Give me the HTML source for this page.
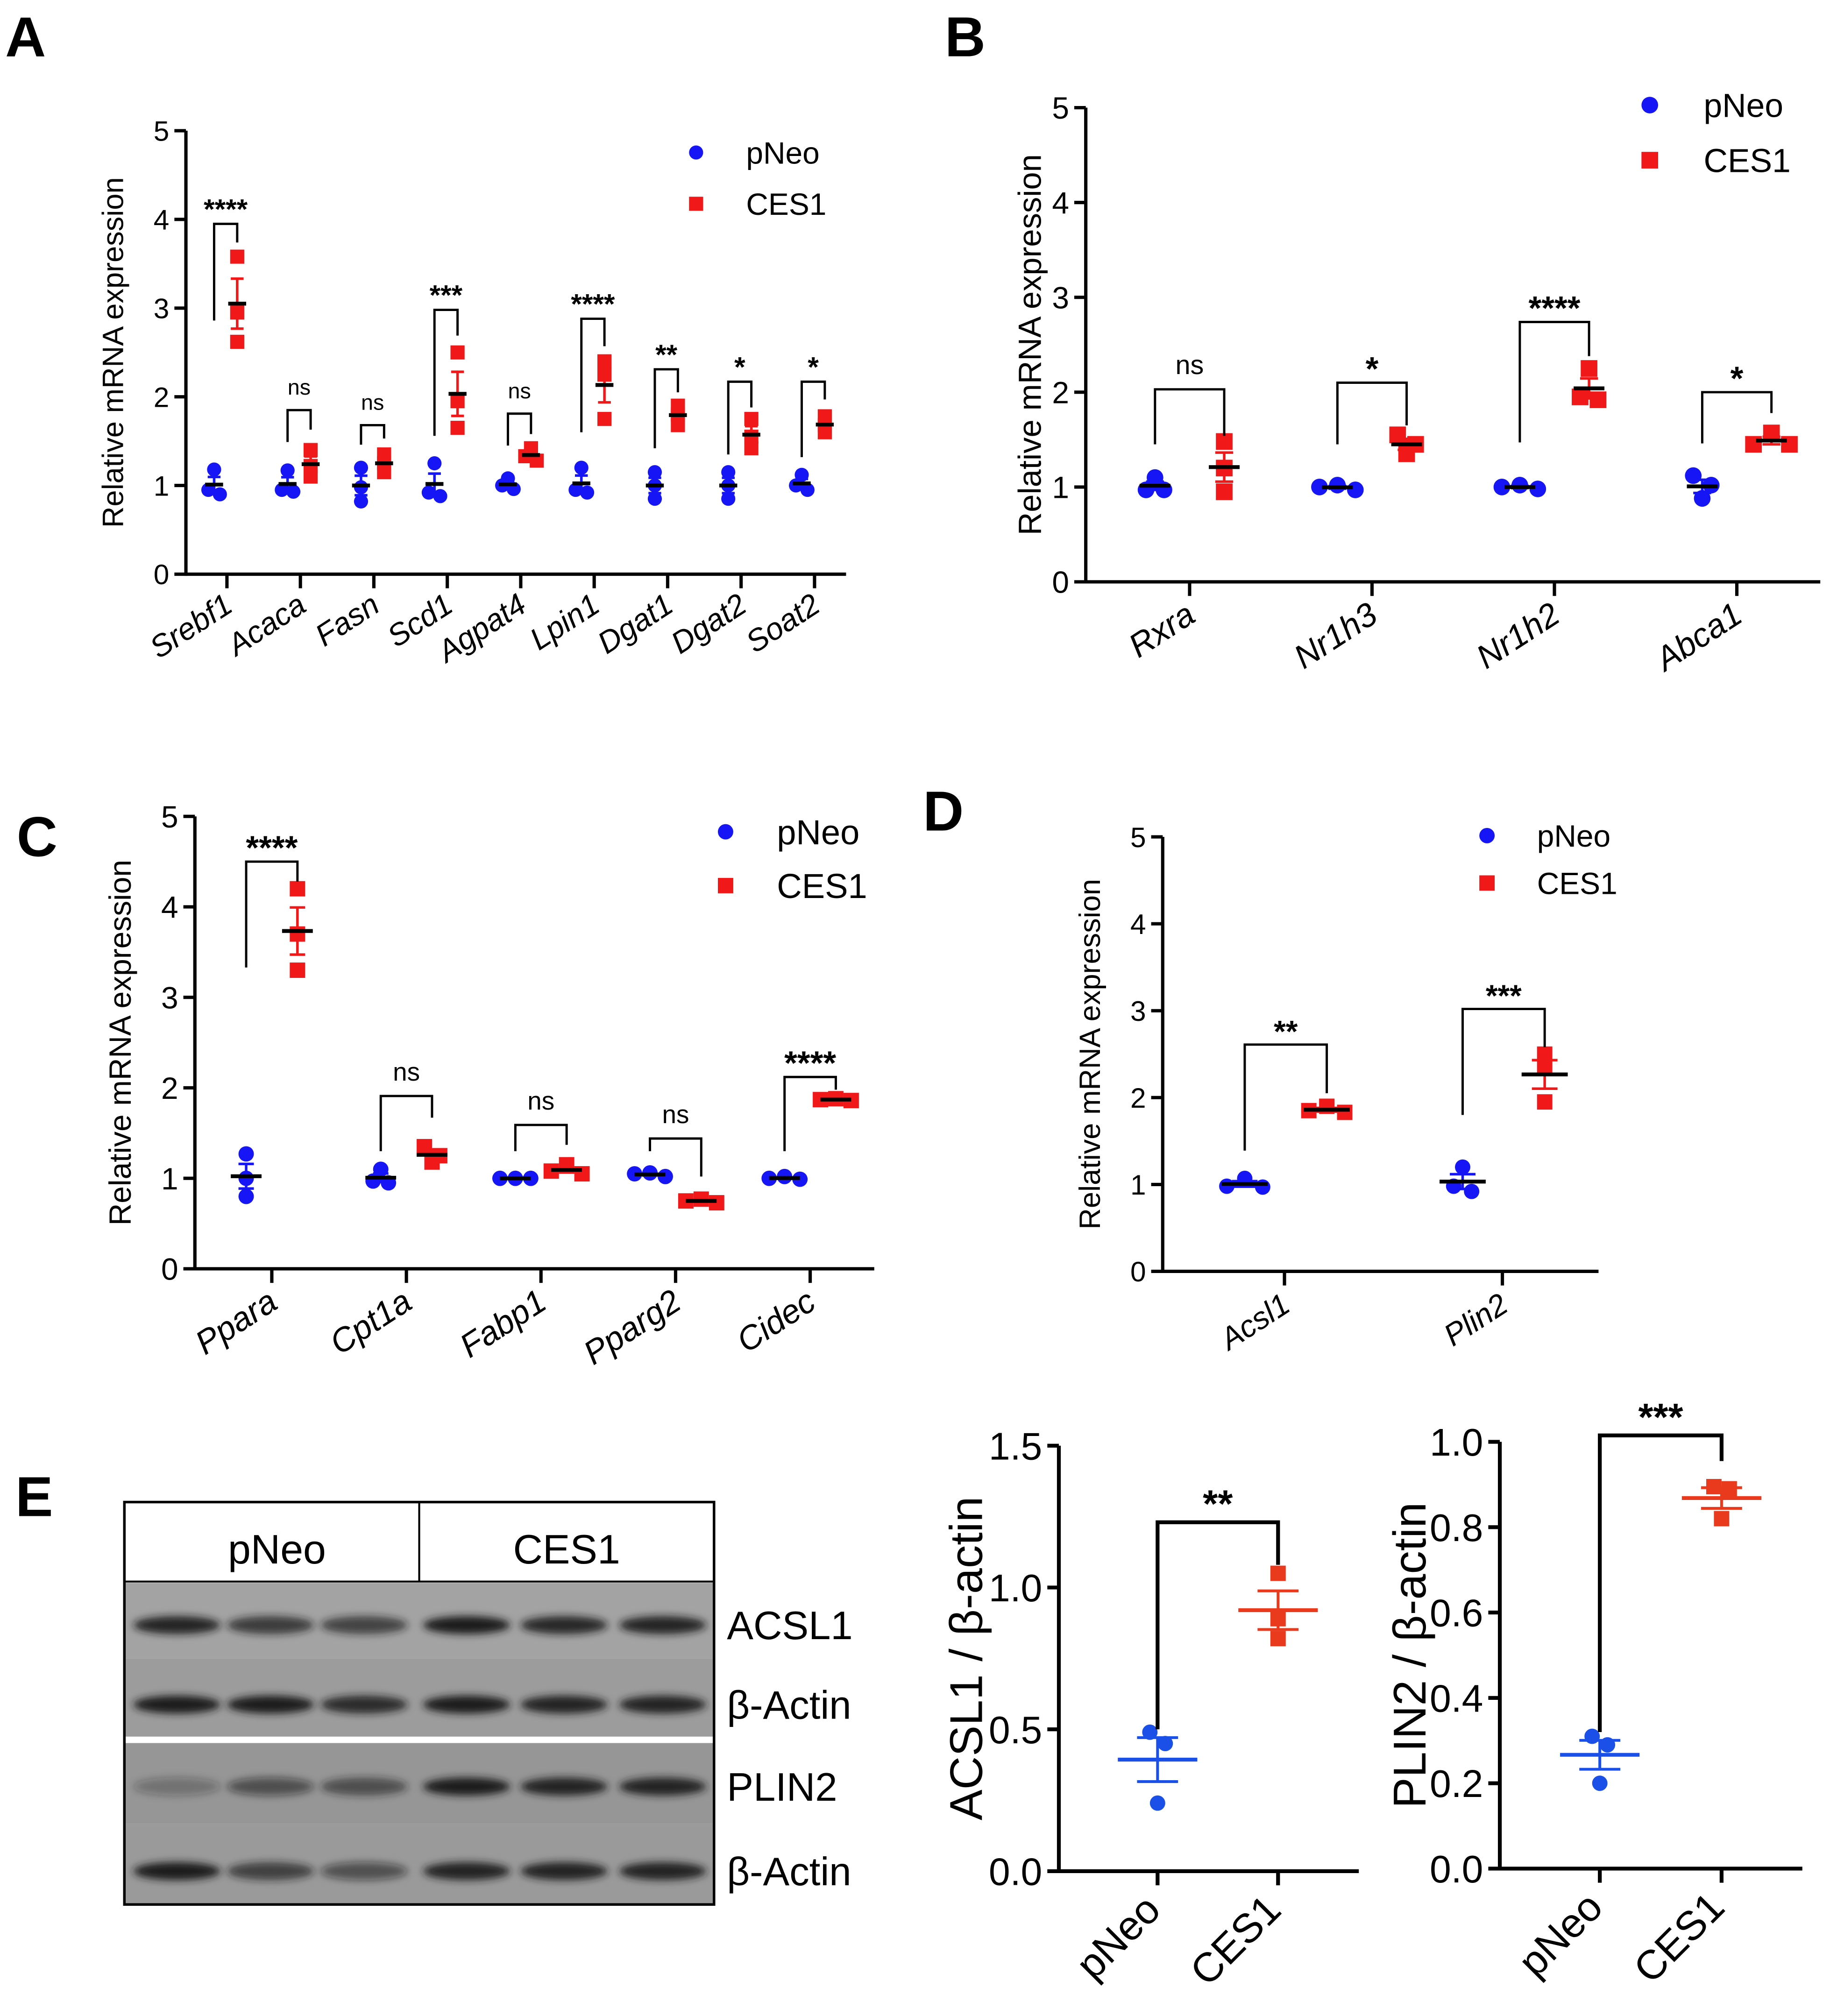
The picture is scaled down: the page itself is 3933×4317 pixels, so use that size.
<!DOCTYPE html>
<html><head><meta charset="utf-8">
<style>
html,body{margin:0;padding:0;background:#fff;}
svg{display:block;font-family:"Liberation Sans",Arial,sans-serif;}
</style></head>
<body>
<svg id="fig" xmlns="http://www.w3.org/2000/svg" width="3933" height="4317" viewBox="0 0 1433 1573">
<defs><filter id="blur" x="-50%" y="-100%" width="200%" height="300%"><feGaussianBlur stdDeviation="3"/></filter></defs>
</svg>
<script>
// ---------- DATA ----------
const catsA = ['Srebf1','Acaca','Fasn','Scd1','Agpat4','Lpin1','Dgat1','Dgat2','Soat2'];
const pNeoA = [[1.18,0.9,0.95],[1.17,0.93,0.95],[1.2,0.98,0.82],[1.25,0.92,0.88],[1.08,1.0,0.96],[1.2,0.95,0.92],[1.15,1.0,0.85],[1.15,1.0,0.85],[1.12,1.0,0.95]];
const ces1A = [[3.58,2.95,2.62],[1.4,1.22,1.1],[1.35,1.25,1.15],[2.5,1.95,1.65],[1.42,1.33,1.28],[2.4,2.25,1.75],[1.9,1.8,1.68],[1.75,1.55,1.42],[1.78,1.68,1.6]];
const sigA = ['****','ns','ns','***','ns','****','**','*','*'];
const brTopA = [3.95,1.85,1.68,2.98,1.81,2.88,2.31,2.17,2.17];
const brLeftA = [2.86,1.49,1.46,1.56,1.45,1.6,1.42,1.35,1.32];
const brRightA = [3.74,1.63,1.53,2.69,1.58,2.57,2.05,1.88,1.97];
const ticksA = [0,1,2,3,4,5];

const catsB = ['Rxra','Nr1h3','Nr1h2','Abca1'];
const pNeoB = [[1.1,0.97,0.97],[0.97,1.0,1.02],[0.98,1.0,1.02],[1.12,1.02,0.88]];
const ces1B = [[1.48,1.2,0.95],[1.55,1.45,1.35],[2.25,1.95,1.92],[1.57,1.45,1.45]];
const sigB = ['ns','*','****','*'];
const brTopB = [2.03,2.1,2.74,2.0];
const brLeftB = [1.45,1.45,1.47,1.46];
const brRightB = [1.54,1.65,2.38,1.78];
const ticksB = [0,1,2,3,4,5];

const catsC = ['Ppara','Cpt1a','Fabp1','Pparg2','Cidec'];
const pNeoC = [[1.27,1.0,0.8],[1.1,0.97,0.95],[1.0,1.0,1.0],[1.06,1.05,1.02],[0.99,1.02,1.0]];
const ces1C = [[4.2,3.7,3.3],[1.35,1.25,1.18],[1.15,1.08,1.05],[0.77,0.75,0.73],[1.88,1.87,1.86]];
const sigC = ['****','ns','ns','ns','****'];
const brTopC = [4.5,1.91,1.59,1.44,2.12];
const brLeftC = [3.33,1.3,1.3,1.3,1.3];
const brRightC = [4.28,1.67,1.37,1.02,1.98];
const ticksC = [0,1,2,3,4,5];

const catsD = ['Acsl1','Plin2'];
const pNeoD = [[1.07,0.98,0.97],[1.2,0.98,0.92]];
const ces1D = [[1.9,1.85,1.83],[2.5,2.35,1.95]];
const sigD = ['**','***'];
const brTopD = [2.61,3.02];
const brLeftD = [1.39,1.8];
const brRightD = [2.05,2.58];
const ticksD = [0,1,2,3,4,5];

const catsE = ['pNeo','CES1'];
const acslVals = [[0.49,0.45,0.24],[1.05,0.89,0.82]];
const acslSig = ['**'];
const acslBr = [1.23,0.5,1.08];
const acslTicks = [0,0.5,1.0,1.5];
const plinVals = [[0.31,0.29,0.2],[0.895,0.89,0.82]];
const plinSig = ['***'];
const plinBr = [1.015,0.32,0.955];
const plinTicks = [0,0.2,0.4,0.6,0.8,1.0];

const blotLanes = ['pNeo-1','pNeo-2','pNeo-3','CES1-1','CES1-2','CES1-3'];
const blotACSL1 = [0.9,0.75,0.7,1,0.88,0.9];
const blotActin1 = [1,1,0.85,1,0.95,0.95];
const blotPLIN2 = [0.3,0.55,0.6,1,0.95,0.95];
const blotActin2 = [1,0.7,0.55,0.95,0.95,0.95];

// ---------- HELPERS ----------
const NS='http://www.w3.org/2000/svg';
const svg=document.getElementById('fig');
function mk(tag,attrs,parent){const e=document.createElementNS(NS,tag);for(const k in attrs)e.setAttribute(k,attrs[k]);(parent||svg).appendChild(e);return e;}
function txt(s,attrs,parent){const e=mk('text',attrs,parent);e.textContent=s;return e;}
function mean(a){return a.reduce((s,v)=>s+v,0)/a.length;}
function sem(a){const m=mean(a);const sd=Math.sqrt(a.reduce((s,v)=>s+(v-m)*(v-m),0)/(a.length-1));return sd/Math.sqrt(a.length);}
function jitter(ys,dx,thr){
  const idx=[0,1,2].sort((i,j)=>ys[i]-ys[j]);const off=[0,0,0];
  const r=ys[idx[2]]-ys[idx[0]];
  if(r<thr){off[idx[0]]=0;off[idx[1]]=-dx;off[idx[2]]=dx;return off;}
  if(ys[idx[1]]-ys[idx[0]]<thr){off[idx[0]]=-dx/2;off[idx[1]]=dx/2;}
  else if(ys[idx[2]]-ys[idx[1]]<thr){off[idx[1]]=-dx/2;off[idx[2]]=dx/2;}
  return off;
}
function panelLabel(s,x,y){const t=txt(s,{x:x,y:y,'font-size':44,'font-weight':'bold',fill:'#000'});
  
  }

function dotPanel(p){
  const g=mk('g',{});
  
  
  const Y=v=>p.y0-v*(p.y0-p.y1)/p.ymax;
  const sw=p.sw||2.6;
  const ya=mk('line',{x1:p.x0,y1:p.y1,x2:p.x0,y2:p.y0+sw/2,stroke:'#000','stroke-width':sw},g);
  
  
  const xa=mk('line',{x1:p.x0,y1:p.y0,x2:p.x2,y2:p.y0,stroke:'#000','stroke-width':sw},g);
  
  
  p.ticks.forEach(t=>{
    const l=mk('line',{x1:p.x0-9,y1:Y(t),x2:p.x0,y2:Y(t),stroke:'#000','stroke-width':sw},g);
    
    
    const tl=txt(p.fmt?p.fmt(t):String(t),{x:p.x0-13,y:Y(t)+p.tfs*0.36,'font-size':p.tfs,'text-anchor':'end',fill:'#000'},g);
    
    
  });
  const yt=txt(p.ytitle,{x:0,y:0,'font-size':p.yfs,'text-anchor':'middle',fill:'#000',transform:`translate(${p.ytx},${(p.y0+p.y1)/2}) rotate(-90)`},g);
  
  
  p.cats.forEach((c,i)=>{
    const cx=p.cx0+i*p.dcx;
    const tk=mk('line',{x1:cx,y1:p.y0,x2:cx,y2:p.y0+11,stroke:'#000','stroke-width':sw},g);
    
    
    const lb=txt(c,{x:0,y:0,'font-size':p.cfs,'font-style':p.italic===false?'normal':'italic','text-anchor':'end',fill:'#000',transform:`translate(${cx+p.lox},${p.y0+p.loy}) rotate(${p.rot})`},g);
    
    
    const groups=p.single?[[p.vals[i],cx,p.colors[i],p.shapes[i]]]:[[p.a[i],cx-p.ofsA,p.colors[0],'circle'],[p.b[i],cx+p.ofsB,p.colors[1],'square']];
    groups.forEach(([vals,gx,col,shape],gi)=>{
      const ys=vals.map(Y);
      const off=jitter(ys,p.jdx,p.jthr);
      vals.forEach((v,k)=>{
        let m;
        if(shape==='circle'){m=mk('circle',{cx:gx+off[k],cy:ys[k],r:p.ms/2,fill:col},g);}
        else{m=mk('rect',{x:gx+off[k]-p.ms/2,y:ys[k]-p.ms/2,width:p.ms,height:p.ms,fill:col},g);}
        
        
      });
      const mu=mean(vals),se=sem(vals);
      const eb=mk('path',{d:`M${gx},${Y(mu+se)}V${Y(mu-se)}M${gx-p.capw},${Y(mu+se)}H${gx+p.capw}M${gx-p.capw},${Y(mu-se)}H${gx+p.capw}`,stroke:col,'stroke-width':p.ebw||2,fill:'none'},g);
      
      
      const ml=mk('line',{x1:gx-p.meanw,y1:Y(mu),x2:gx+p.meanw,y2:Y(mu),stroke:p.meanColor||col,'stroke-width':p.mlw||3},g);
      
      
    });
  });
  p.sig.forEach((s,i)=>{
    let lx,rx;
    if(p.single){lx=p.cx0;rx=p.cx0+p.dcx;}
    else{const cx=p.cx0+i*p.dcx;lx=cx-p.ofsA;rx=cx+p.ofsB;}
    const br=mk('path',{d:`M${lx},${Y(p.brL[i])}V${Y(p.brT[i])}H${rx}V${Y(p.brR[i])}`,stroke:'#000','stroke-width':p.bsw||1.8,fill:'none'},g);
    
    
    const isNs=s==='ns';
    const st=txt(s,{x:(lx+rx)/2,y:Y(p.brT[i])-(isNs?p.nsGap:p.starGap),'font-size':isNs?p.nsfs:p.sfs,'font-weight':isNs?'normal':'bold','text-anchor':'middle',fill:'#000'},g);
    
    
  });
  if(p.leg){
    const L=p.leg;
    const c1=mk('circle',{cx:L.x,cy:L.y1,r:p.ms/2,fill:p.colors[0]},g);
    
    
    const t1=txt('pNeo',{x:L.tx,y:L.y1+L.fs*0.36,'font-size':L.fs,fill:'#000'},g);
    
    
    const r2=mk('rect',{x:L.x-p.ms/2,y:L.y2-p.ms/2,width:p.ms,height:p.ms,fill:p.colors[1]},g);
    
    
    const t2=txt('CES1',{x:L.tx,y:L.y2+L.fs*0.36,'font-size':L.fs,fill:'#000'},g);
    
    
  }
}
const BLUE='#1515f5', RED='#f01818';
const TITLE='Relative mRNA expression';

panelLabel('A',4,44);
dotPanel({name:'panel-a',x0:145,y0:448,y1:102,x2:660,ymax:5,ticks:ticksA,tfs:22,ytitle:TITLE,yfs:23,ytx:96,
  cats:catsA,cx0:177,dcx:57.3,a:pNeoA,b:ces1A,ofsA:10,ofsB:8,colors:[BLUE,RED],ms:11,jdx:9,jthr:5,capw:5,meanw:7,meanColor:'#000',
  cfs:24,lox:6,loy:28,rot:-33,sig:sigA,brT:brTopA,brL:brLeftA,brR:brRightA,nsfs:17,sfs:22,nsGap:12,starGap:4,
  leg:{x:543,y1:119,y2:159,tx:582,fs:24}});

panelLabel('B',737,44);
dotPanel({name:'panel-b',x0:847,y0:454,y1:84,x2:1420,ymax:5,ticks:ticksB,tfs:24,ytitle:TITLE,yfs:25,ytx:812,
  cats:catsB,cx0:928,dcx:142.3,a:pNeoB,b:ces1B,ofsA:27,ofsB:27,colors:[BLUE,RED],ms:13,jdx:14,jthr:9,capw:7,meanw:12,meanColor:'#000',
  cfs:26,lox:6,loy:30,rot:-33,sig:sigB,brT:brTopB,brL:brLeftB,brR:brRightB,nsfs:21,sfs:26,nsGap:12,starGap:2,
  leg:{x:1287,y1:82,y2:125,tx:1329,fs:26}});

panelLabel('C',13,668);
dotPanel({name:'panel-c',x0:152,y0:990,y1:637,x2:682,ymax:5,ticks:ticksC,tfs:24,ytitle:TITLE,yfs:24,ytx:102,
  cats:catsC,cx0:212,dcx:105,a:pNeoC,b:ces1C,ofsA:20,ofsB:20,colors:[BLUE,RED],ms:12,jdx:12,jthr:9,capw:6,meanw:12,meanColor:'#000',
  cfs:26,lox:6,loy:30,rot:-33,sig:sigC,brT:brTopC,brL:brLeftC,brR:brRightC,nsfs:20,sfs:26,nsGap:12,starGap:2,
  leg:{x:566,y1:649,y2:691,tx:606,fs:27}});

panelLabel('D',720,648);
dotPanel({name:'panel-d',x0:907,y0:992,y1:653,x2:1247,ymax:5,ticks:ticksD,tfs:22,ytitle:TITLE,yfs:23,ytx:858,
  cats:catsD,cx0:1002,dcx:170,a:pNeoD,b:ces1D,ofsA:31,ofsB:33,colors:[BLUE,RED],ms:12,jdx:14,jthr:9,capw:10,meanw:18,meanColor:'#000',
  cfs:24,lox:6,loy:30,rot:-33,sig:sigD,brT:brTopD,brL:brLeftD,brR:brRightD,nsfs:20,sfs:24,nsGap:12,starGap:2,
  leg:{x:1160,y1:652,y2:689,tx:1199,fs:24}});

panelLabel('E',12,1183);
(function(){
  const g=mk('g',{});
  
  
  const rows=[[blotACSL1,1235,1294,'#a3a3a3',1268,'ACSL1'],[blotActin1,1294,1356,'#9c9c9c',1330,'β-Actin'],[blotPLIN2,1360,1423,'#969696',1394,'PLIN2'],[blotActin2,1423,1485,'#9a9a9a',1460,'β-Actin']];
  const laneX=[138,211,284,364,440,517];
  rows.forEach(([vals,ytop,ybot,bg,yc,lab],ri)=>{
    const r=mk('rect',{x:97,y:ytop,width:460,height:ybot-ytop,fill:bg},g);
    
    
    vals.forEach((v,k)=>{
      const e=mk('ellipse',{cx:laneX[k],cy:yc,rx:34,ry:7,fill:'#1a1a1a','fill-opacity':v,filter:'url(#blur)'},g);
      
      
    });
    const t=txt(lab,{x:567,y:yc+11,'font-size':31,fill:'#000'},g);
    
    
  });
  const sep=mk('rect',{x:97,y:1355,width:460,height:5,fill:'#fff'},g);
  
  
  const box=mk('rect',{x:97,y:1172,width:460,height:314,fill:'none',stroke:'#000','stroke-width':2},g);
  
  
  const hl=mk('line',{x1:97,y1:1234,x2:557,y2:1234,stroke:'#000','stroke-width':1.5},g);
  
  
  const dv=mk('line',{x1:327,y1:1172,x2:327,y2:1234,stroke:'#000','stroke-width':1.5},g);
  
  
  const h1=txt('pNeo',{x:216,y:1220,'font-size':32,'text-anchor':'middle',fill:'#000'},g);
  
  
  const h2=txt('CES1',{x:442,y:1220,'font-size':32,'text-anchor':'middle',fill:'#000'},g);
  
  
})();

const EB='#1a4fe8', ER='#ea3a1e';
dotPanel({name:'acsl1-quant',x0:826,y0:1460,y1:1128,x2:1060,ymax:1.5,ticks:acslTicks,tfs:30,fmt:t=>t.toFixed(1),ytitle:'ACSL1 / β-actin',yfs:36,ytx:766,
  cats:catsE,cx0:903,dcx:94,single:true,vals:acslVals,colors:[EB,ER],shapes:['circle','square'],ms:12,jdx:12,jthr:12,capw:16,meanw:31,meanColor:null,ebw:2.2,mlw:3,
  cfs:32,italic:false,lox:4,loy:32,rot:-45,sig:acslSig,brT:[acslBr[0]],brL:[acslBr[1]],brR:[acslBr[2]],sfs:30,nsfs:20,nsGap:10,starGap:4,bsw:3,sw:3});
dotPanel({name:'plin2-quant',x0:1170,y0:1458,y1:1125,x2:1406,ymax:1.0,ticks:plinTicks,tfs:30,fmt:t=>t.toFixed(1),ytitle:'PLIN2 / β-actin',yfs:36,ytx:1112,
  cats:catsE,cx0:1248,dcx:95,single:true,vals:plinVals,colors:[EB,ER],shapes:['circle','square'],ms:12,jdx:12,jthr:12,capw:16,meanw:31,meanColor:null,ebw:2.2,mlw:3,
  cfs:32,italic:false,lox:4,loy:32,rot:-45,sig:plinSig,brT:[plinBr[0]],brL:[plinBr[1]],brR:[plinBr[2]],sfs:30,nsfs:20,nsGap:10,starGap:4,bsw:3,sw:3});
</script>
</body></html>
